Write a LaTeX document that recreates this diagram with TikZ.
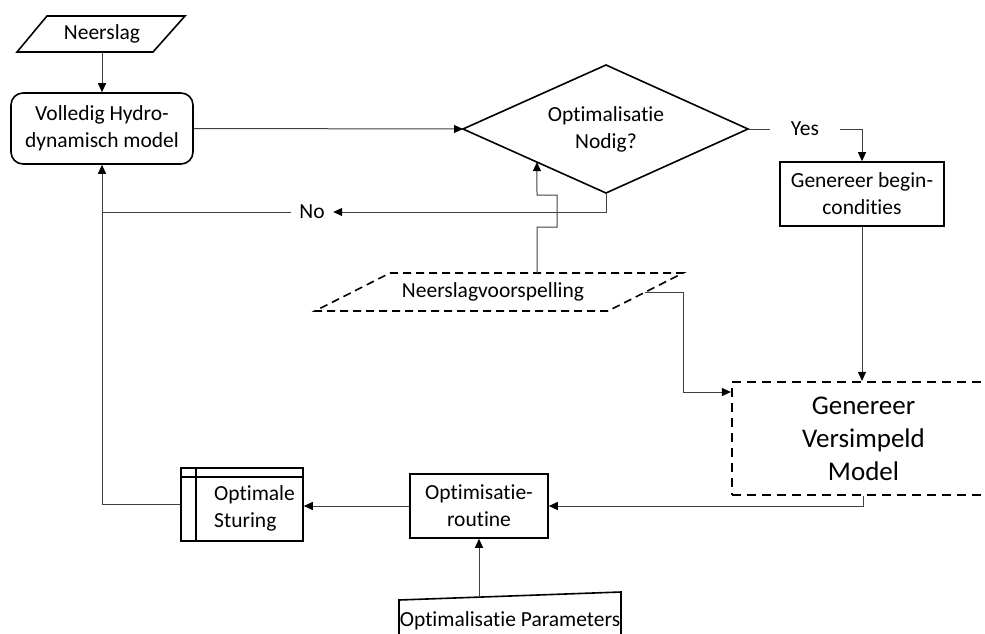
\documentclass[tikz,border=0pt]{standalone}
\usepackage{fontspec}
\setmainfont{Carlito}[Ligatures=NoCommon]
\usetikzlibrary{arrows.meta}
\begin{document}
\begin{tikzpicture}[x=1pt,y=-1pt,
  font=\fontsize{21.5}{27}\selectfont,
  shapeline/.style={draw=black,line width=1.6pt},
  conn/.style={draw=black!75,line width=1pt},
  arr/.style={conn,-{Triangle[length=9pt,width=8pt,fill=black,color=black]}},
  box/.style={shapeline,rectangle,inner sep=0pt,align=center},
  txt/.style={inner sep=0pt,align=center},
]
\useasboundingbox (0,0) rectangle (985,634);
\clip (0,0) rectangle (985,634);

% Neerslag input
\draw[shapeline] (47,16) -- (185,16) -- (153,52) -- (17,52) -- cycle;
\node[txt,minimum width=136pt,minimum height=36pt] (neer) at (102,34) {Neerslag};

% Full model
\node[box,rounded corners=12pt,minimum width=182pt,minimum height=71pt] (vol) at (102,128.5) {Volledig Hydro-\\dynamisch model};

% Decision diamond
\coordinate (dl) at (463,129);
\coordinate (dt) at (606,65);
\coordinate (dr) at (748,129);
\coordinate (db) at (606,193);
\draw[shapeline] (dl) -- (dt) -- (dr) -- (db) -- cycle;
\node[txt] (opt) at (606,129) {Optimalisatie\\Nodig?};

\node[txt,minimum width=70pt] (yes) at (805,129) {Yes};
\node[txt,minimum width=42pt] (no) at (312,212) {No};

% Genereer begin-condities
\node[box,minimum width=164pt,minimum height=64pt] (gb) at (862,194) {Genereer begin-\\condities};

% Dashed box
\node[box,dash pattern=on 9pt off 6pt,line width=2.2pt,minimum width=263pt,minimum height=113pt,
      font=\fontsize{27}{33}\selectfont] (dm) at (863.5,438.5) {Genereer\\Versimpeld\\Model};

% Forecast
\draw[shapeline,dash pattern=on 8pt off 5pt] (390,273) -- (683,273) -- (608,311) -- (315,311) -- cycle;
\node[txt,minimum height=38pt] (nv) at (493,292) {Neerslagvoorspelling};
\coordinate (nvt) at (537,273);
\coordinate (nvr) at (645,292);
\path (dl) -- (db) coordinate[pos=0.517] (nvin);

% Optimisatie-routine
\node[box,minimum width=138pt,minimum height=64pt] (rt) at (479,506) {Optimisatie-\\routine};

% Optimale Sturing
\node[box,minimum width=122pt,minimum height=73pt] (st) at (242,504.5) {};
\draw[shapeline] (181,477) -- (303,477);
\draw[shapeline] (196,468) -- (196,541);
\node[txt,align=left,anchor=west] (stt) at (214,508) {Optimale\\Sturing};

% Parameters (manual input)
\draw[shapeline] (399,645) -- (399,600) -- (621,592) -- (621,645);
\node[txt] (pm) at (510,621) {Optimalisatie Parameters};
\coordinate (pmt) at (479,596.5);

% Connectors
\draw[arr] (neer.south) -- (vol.north);
\draw[arr] (vol.east) -- (dl);
\draw[conn] (dr) -- (yes.west);
\draw[arr] (yes.east) -| (gb.north);
\draw[arr] (gb.south) -- (gb.south |- dm.north);
\draw[arr] (dm.south) |- (rt.east);
\draw[arr] (rt.west) -- (rt.west -| st.east);
\draw[arr] (st.west) -| (vol.south);
\draw[arr] (db) |- (no.east);
\draw[conn] (no.west) -- (no.west -| vol.south);
\draw[arr] (nvt) -- (537,227) -- (557,227) -- (557,195) -- (537,195) -- (nvin);
\draw[arr] (nvr) -| (683,392) -- (dm.west |- 0,392);
\draw[arr] (pmt) -- (rt.south);
\end{tikzpicture}
\end{document}
